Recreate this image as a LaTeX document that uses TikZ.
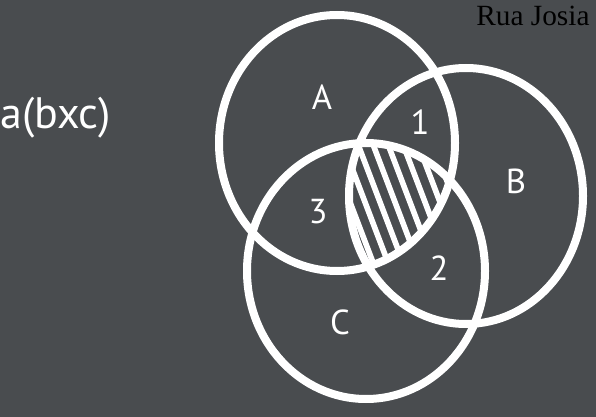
\documentclass[tikz,border=0pt]{standalone}
\usepackage{fontspec}
\setmainfont{PT Sans}
\newfontfamily\ruafont{Liberation Serif}
\usetikzlibrary{positioning}
\definecolor{board}{RGB}{73,76,79}

% the three sets
\def\setA{(337,143) ellipse [x radius=118, y radius=128]}
\def\setB{(466,196) ellipse [x radius=117, y radius=128]}
\def\setC{(366,271) ellipse [x radius=119, y radius=128]}

\begin{document}
\begin{tikzpicture}[
    x=0.75pt, y=-0.75pt,
    set/.style={draw=white, line width=6pt},
    hatch/.style={draw=white, line width=4.2pt},
    lbl/.style={text=white, inner sep=0pt, font=\fontsize{26}{26}\selectfont},
]
\fill[board] (0,0) rectangle (596,417);
\useasboundingbox (0,0) rectangle (596,417);

% shaded part: inside A, B and C
\begin{scope}
  \clip \setA;
  \clip \setB;
  \clip \setC;
  \foreach \i in {-105,-90,...,105}
    \draw[hatch] (358+\i,105) -- (438+\i,315);
\end{scope}

\draw[set] \setA;
\draw[set] \setB;
\draw[set] \setC;

\node[lbl] (labA) at (322,97) {A};
\node[lbl] (lab1) at (420,122) {1};
\node[lbl] (labB) at (516,181) {B};
\node[lbl] (lab3) at (318,212) {3};
\node[lbl] (lab2) at (439,268) {2};
\node[lbl] (labC) at (340,322) {C};

\node[lbl, anchor=base west, font=\fontsize{33}{33}\selectfont] (expr) at (0,129) {a(bxc)};
\node[anchor=base west, inner sep=0pt, font=\ruafont\fontsize{22}{22}\selectfont] (rua) at (476,26) {Rua Josia};
\end{tikzpicture}
\end{document}
